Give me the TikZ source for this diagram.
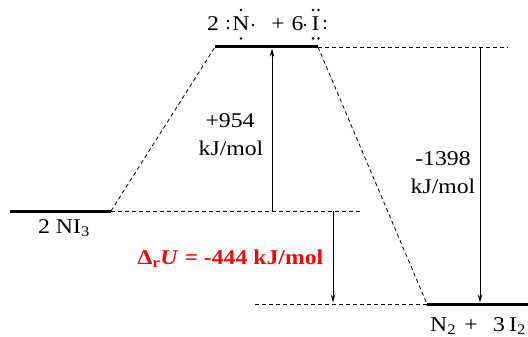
\documentclass[tikz,border=0pt]{standalone}
\usepackage{fontspec}
\setmainfont{Liberation Serif}[FakeStretch=1.13]
\usetikzlibrary{arrows.meta}
\begin{document}
\begin{tikzpicture}[x=1pt,y=-1pt,
  level/.style={line width=3pt},
  guide/.style={line width=0.8pt,dash pattern=on 4pt off 3pt},
  energy/.style={line width=0.9pt,-{Stealth[length=8pt,width=4.5pt]}},
  txt/.style={inner sep=0pt,font=\fontsize{21}{25}\selectfont},
  dot/.style={fill=black,circle,inner sep=0pt,minimum size=2.6pt}]
\useasboundingbox (0,0) rectangle (528,337);
% level ends
\coordinate (L1) at (10,211);
\coordinate (L2) at (111,211);
\coordinate (T1) at (215,47);
\coordinate (T2) at (318,47);
\coordinate (R1) at (427,304);
\coordinate (R2) at (530,304);
\coordinate (Tend) at (508,47);
\coordinate (Mend) at (360,211);
\coordinate (Bstart) at (255,304);
\coordinate (A1s) at (272,211);
\coordinate (A1e) at (272,48.5);
\coordinate (A2s) at (480,47);
\coordinate (A2e) at (480,302.5);
\coordinate (A3s) at (333,211);
\coordinate (A3e) at (333,302.5);
% guide lines
\draw[guide] (L2) -- (T1);
\draw[guide] (T2) -- (R1);
\draw[guide] (T2) -- (Tend);
\draw[guide] (L2) -- (Mend);
\draw[guide] (Bstart) -- (R1);
% levels
\draw[level] (L1) -- (L2);
\draw[level] (T1) -- (T2);
\draw[level] (R1) -- (R2);
% arrows
\draw[energy] (A1s) -- (A1e);
\draw[energy] (A2s) -- (A2e);
\draw[energy] (A3s) -- (A3e);
% top species
\node[txt,anchor=base west] (two) at (207,31) {2};
\node[txt,anchor=base] (N) at (241,31) {N};
\node[txt,anchor=base] (plus) at (278,31) {+};
\node[txt,anchor=base] (six) at (297.5,31) {6};
\node[txt,anchor=base] (I) at (315.5,31) {I};
\node[dot] (n1) at (241,10) {};
\node[dot] (n2) at (241,38.5) {};
\node[dot] (n3) at (253,25) {};
\node[dot] (n4) at (228,21) {};
\node[dot] (n5) at (228,28) {};
\node[dot] (i1) at (313,10) {};
\node[dot] (i2) at (318.5,10) {};
\node[dot] (i3) at (313,38.5) {};
\node[dot] (i4) at (318.5,38.5) {};
\node[dot] (i5) at (305,25) {};
\node[dot] (i6) at (325,21) {};
\node[dot] (i7) at (325,28) {};
% other labels
\node[txt,anchor=base] (reac) at (64,233) {2 NI\textsubscript{3}};
\node[txt,anchor=base west] (pN) at (430,331) {N\textsubscript{2}};
\node[txt,anchor=base] (pplus) at (471,331) {+};
\node[txt,anchor=base west] (p3) at (493,331) {3};
\node[txt,anchor=base west] (pI) at (509,331) {I\textsubscript{2}};
\node[txt,anchor=base] (e1a) at (230,128) {+954};
\node[txt,anchor=base] (e1b) at (231,155) {kJ/mol};
\node[txt,anchor=base] (e2a) at (443,165) {-1398};
\node[txt,anchor=base] (e2b) at (443,193) {kJ/mol};
\node[txt,anchor=base,text=red,font=\fontsize{21}{25}\selectfont\bfseries] (dU) at (230.5,264)
  {Δ\textsubscript{r}\textit{U} = -444 kJ/mol};
\end{tikzpicture}
\end{document}
